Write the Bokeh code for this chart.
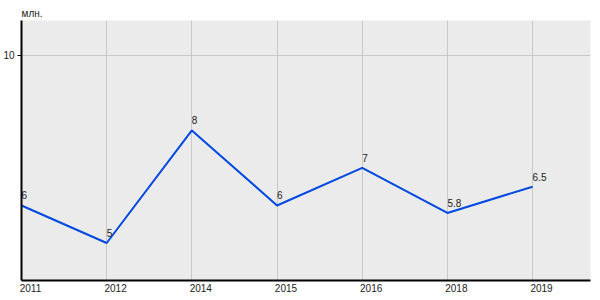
from bokeh.plotting import figure
from bokeh.models import FixedTicker, Range1d, ColumnDataSource
from bokeh.core.properties import value
from bokeh.embed import file_html
from bokeh.resources import INLINE

years = ["2011", "2012", "2014", "2015", "2016", "2018", "2019"]
values = [6, 5, 8, 6, 7, 5.8, 6.5]
value_labels = ["6", "5", "8", "6", "7", "5.8", "6.5"]
y_ticks = [10]

xs = list(range(len(years)))
src = ColumnDataSource(dict(x=xs, y=values, lab=value_labels))

p = figure(width=600, height=300, output_backend="svg", toolbar_location=None,
           x_range=Range1d(0, 6.68), y_range=Range1d(4, 10.93),
           min_border_left=0, min_border_right=10, min_border_top=20, min_border_bottom=20)
p.background_fill_color = "#ebebeb"
p.border_fill_color = "white"
p.outline_line_color = None

p.title.text = "млн."
p.title.text_font = "Liberation Sans"
p.title.text_font_size = "10px"
p.title.text_font_style = "normal"
p.title.text_color = "#222222"
p.title.align = "left"
p.title.standoff = 3

p.line("x", "y", source=src, line_color="#0048e0", line_width=2)
p.text("x", "y", text="lab", source=src, text_font=value("Liberation Sans"),
       text_font_size="10px", text_color="#222222", text_align="left",
       text_baseline="bottom", x_offset=0, y_offset=-6)

# x axis: labels left-aligned to category positions
p.xaxis.ticker = FixedTicker(ticks=[i + 0.105 for i in xs])
p.xaxis.major_label_overrides = {i + 0.105: years[i] for i in xs}
p.xaxis.major_tick_out = 0
p.xaxis.major_tick_in = 0
p.xaxis.minor_tick_line_color = None
p.xaxis.axis_line_color = "black"
p.xaxis.axis_line_width = 2
p.xaxis.major_label_standoff = 3
p.xaxis.major_label_text_font = "Liberation Sans"
p.xaxis.major_label_text_font_size = "10px"
p.xaxis.major_label_text_color = "#222222"
p.xgrid.ticker = FixedTicker(ticks=xs)
p.xgrid.grid_line_color = "#c8c8c8"
p.xgrid.grid_line_width = 1

p.yaxis.ticker = FixedTicker(ticks=y_ticks)
p.yaxis.major_tick_out = 4
p.yaxis.major_tick_in = 0
p.yaxis.minor_tick_line_color = None
p.yaxis.axis_line_color = "black"
p.yaxis.axis_line_width = 2
p.yaxis.major_label_standoff = 3
p.yaxis.major_label_text_font = "Liberation Sans"
p.yaxis.major_label_text_font_size = "10px"
p.yaxis.major_label_text_color = "#222222"
p.ygrid.ticker = FixedTicker(ticks=y_ticks)
p.ygrid.grid_line_color = "#c8c8c8"

open("out.html", "w").write(file_html(p, INLINE))
